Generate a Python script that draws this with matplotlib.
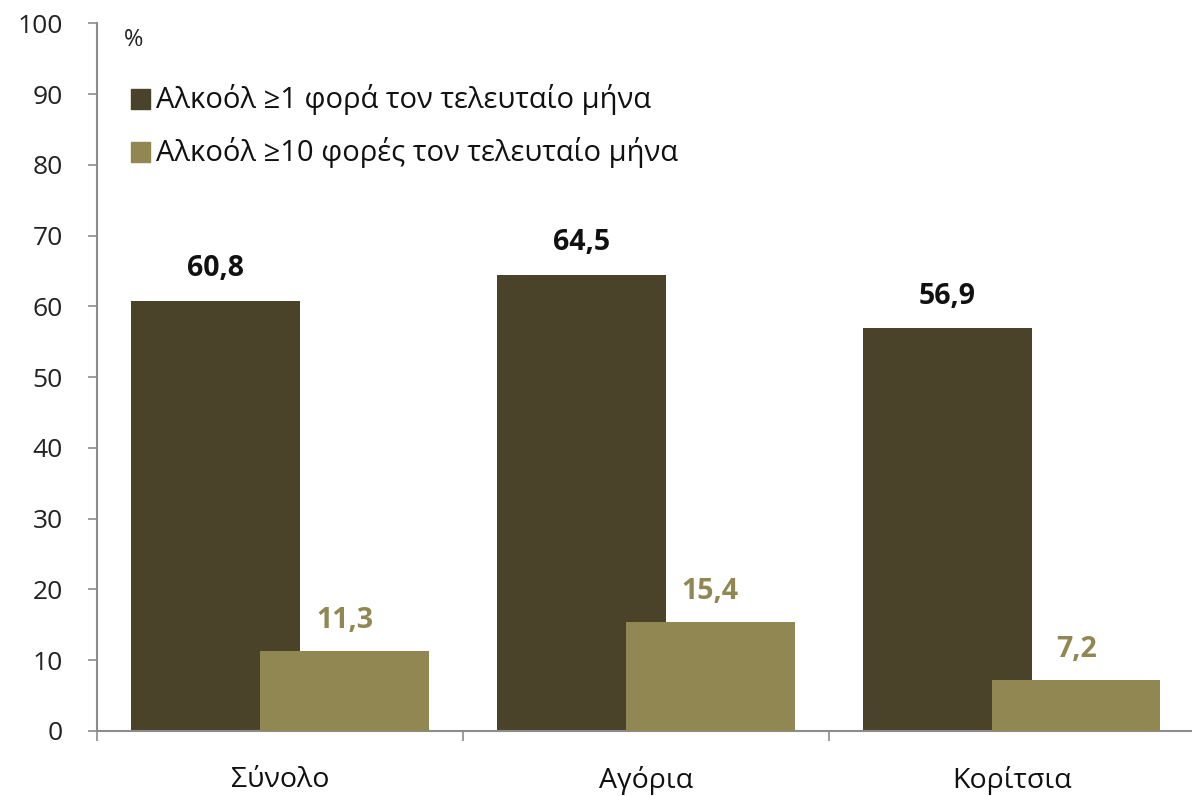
import matplotlib
matplotlib.use("Agg")
import matplotlib.pyplot as plt
from matplotlib.patches import Rectangle
import numpy as np

plt.rcParams['font.family'] = ['Open Sans', 'Noto Sans', 'DejaVu Sans']

categories = ['Σύνολο', 'Αγόρια', 'Κορίτσια']
once_month = [60.8, 64.5, 56.9]
ten_month = [11.3, 15.4, 7.2]
series_names = ['Αλκοόλ ≥1 φορά τον τελευταίο μήνα',
                'Αλκοόλ ≥10 φορές τον τελευταίο μήνα']
y_ticks = [0, 10, 20, 30, 40, 50, 60, 70, 80, 90, 100]

dark = '#4a432a'
olive = '#918752'
axis_gray = '#8c8c8c'

fig = plt.figure(figsize=(11.92, 7.96), dpi=100)
ax = fig.add_axes([0.0814, 0.0817, 0.921, 0.889])

x = np.arange(len(categories)) + 0.5
w = 0.46
off = 0.176
ax.bar(x - off, once_month, width=w, color=dark, zorder=2)
ax.bar(x + off, ten_month, width=w, color=olive, zorder=3)

for xi, v in zip(x - off, once_month):
    ax.annotate(f'{v:.1f}'.replace('.', ','), (xi, v), xytext=(0, 23),
                textcoords='offset points', ha='center', va='center',
                fontsize=20.5, fontweight='bold', color='#111111')
for xi, v in zip(x + off, ten_month):
    ax.annotate(f'{v:.1f}'.replace('.', ','), (xi, v), xytext=(0, 22),
                textcoords='offset points', ha='center', va='center',
                fontsize=20.5, fontweight='bold', color=olive)

ax.set_xlim(0, 3)
ax.set_ylim(0, 100)
ax.set_yticks(y_ticks)
ax.set_yticklabels([str(t) for t in y_ticks], fontsize=19, color='#222222')
ax.set_xticks([0, 1, 2, 3])
ax.set_xticklabels([])
ax.set_xticks(x, minor=True)
ax.set_xticklabels(categories, minor=True, fontsize=20.5, color='#111111')
ax.tick_params(axis='x', which='minor', length=0, pad=25)
ax.tick_params(axis='x', which='major', length=7, width=1.2, color=axis_gray, direction='out')
ax.tick_params(axis='y', length=6.5, width=1.2, color=axis_gray, direction='out', pad=18)

for s in ('top', 'right'):
    ax.spines[s].set_visible(False)
for s in ('left', 'bottom'):
    ax.spines[s].set_color(axis_gray)
    ax.spines[s].set_linewidth(1.5)

# Legend drawn manually inside the axes, with a "%" unit label above it
ax.text(0.072, 97.6, '%', fontsize=17, color='#222222', ha='left', va='center')
for i, (name, col) in enumerate(zip(series_names, [dark, olive])):
    yc = 89.3 - i * 7.5
    ax.add_patch(Rectangle((0.092, yc - 1.4), 0.052, 2.8, color=col, zorder=4,
                           clip_on=False))
    ax.text(0.16, yc, name, fontsize=21, color='#111111', ha='left', va='center')

fig.savefig('out.png', dpi=100, facecolor='white')
